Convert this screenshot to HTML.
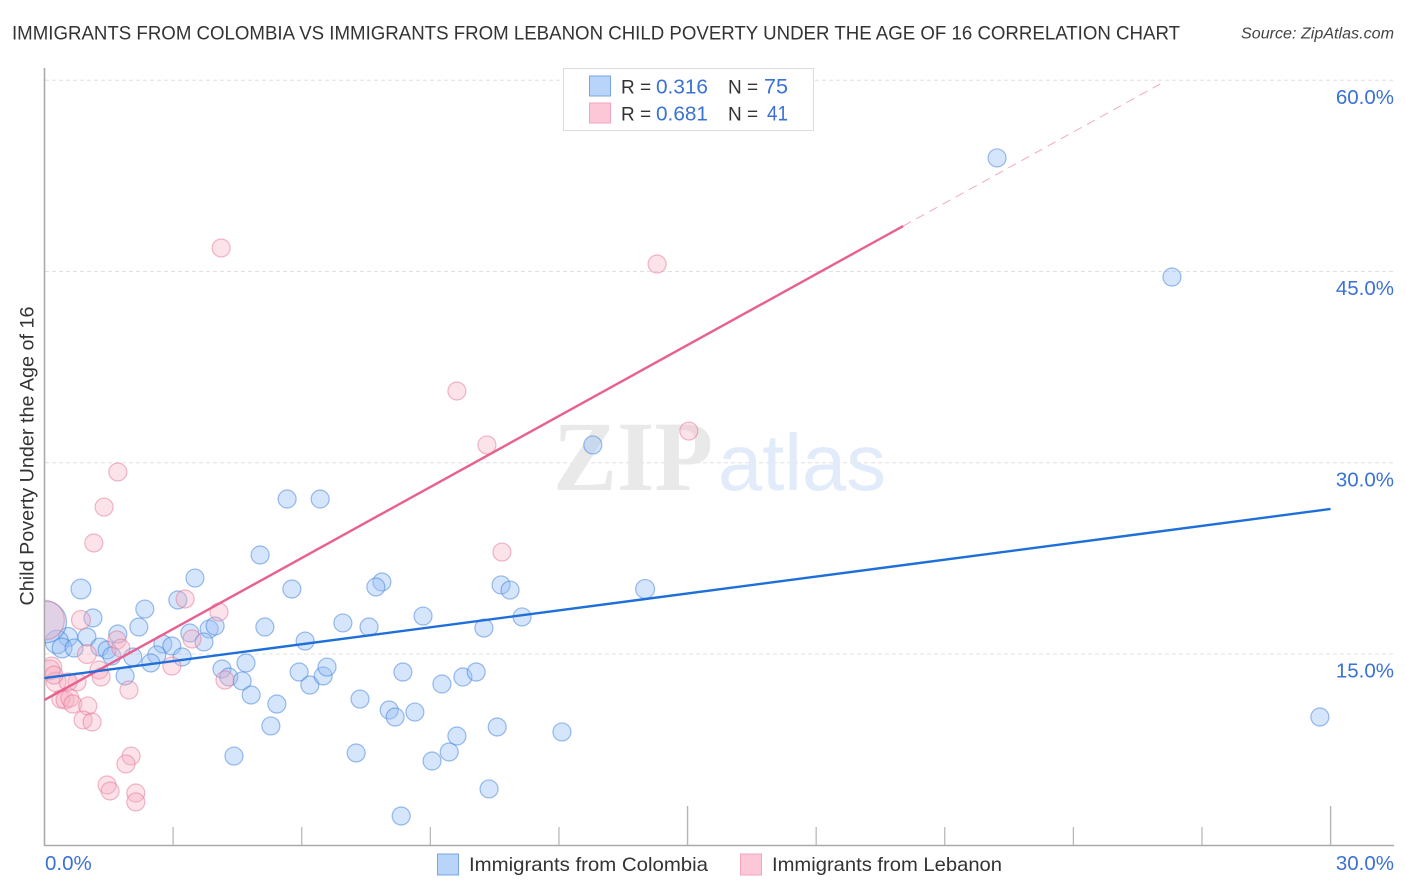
<!DOCTYPE html>
<html lang="en">
<head>
<meta charset="utf-8">
<title>Immigrants from Colombia vs Immigrants from Lebanon Child Poverty Chart</title>
<style>
html,body{margin:0;padding:0;background:#fff;width:1406px;height:892px;overflow:hidden}
svg{display:block;font-family:"Liberation Sans",sans-serif}
</style>
</head>
<body>
<svg id="chart" width="1406" height="892" viewBox="0 0 1406 892" xmlns="http://www.w3.org/2000/svg">
  <defs><clipPath id="plot-clip"><rect x="45" y="60" width="1349" height="785"/></clipPath></defs>
  <text x="12" y="39.5" font-size="19.5" fill="#333" textLength="1168" lengthAdjust="spacingAndGlyphs">IMMIGRANTS FROM COLOMBIA VS IMMIGRANTS FROM LEBANON CHILD POVERTY UNDER THE AGE OF 16 CORRELATION CHART</text>
  <text x="1394" y="38.5" font-size="15.5" font-style="italic" fill="#444" text-anchor="end" textLength="153" lengthAdjust="spacingAndGlyphs">Source: ZipAtlas.com</text>
  <g id="grid"></g>
  <g>
    <text x="553" y="490" font-family="'Liberation Serif',serif" font-weight="bold" font-size="100" fill="#e9e9e9" textLength="160" lengthAdjust="spacingAndGlyphs">ZIP</text>
    <text x="718" y="490" font-size="80" fill="#e2ebfa" textLength="168" lengthAdjust="spacingAndGlyphs">atlas</text>
  </g>
  <g id="axes"></g>
  <g id="points" clip-path="url(#plot-clip)"></g>
  <g id="trends"></g>
  <g id="tick-labels"></g>
  <text transform="translate(33.5,456) rotate(-90)" font-size="19" fill="#333" text-anchor="middle" textLength="299" lengthAdjust="spacingAndGlyphs">Child Poverty Under the Age of 16</text>

  <g>
    <rect x="563.5" y="68.5" width="250" height="62" fill="#fff" stroke="#dcdcdc" stroke-width="1"/>
    <rect x="589.5" y="76" width="21" height="20" fill="#b8d4f8" stroke="#78a6e2" stroke-width="1"/>
    <rect x="589.5" y="103" width="21" height="20" fill="#fcc8d8" stroke="#f3a5bf" stroke-width="1"/>
    <text x="621" y="93.5" font-size="19" fill="#333">R =</text>
    <text x="656" y="93.5" font-size="20.5" fill="#3b72d4" textLength="52" lengthAdjust="spacingAndGlyphs">0.316</text>
    <text x="728" y="93.5" font-size="19" fill="#333">N =</text>
    <text x="764" y="93.5" font-size="21" fill="#3b72d4" textLength="24" lengthAdjust="spacingAndGlyphs">75</text>
    <text x="621" y="120.5" font-size="19" fill="#333">R =</text>
    <text x="656" y="120.5" font-size="20.5" fill="#3b72d4" textLength="52" lengthAdjust="spacingAndGlyphs">0.681</text>
    <text x="728" y="120.5" font-size="19" fill="#333">N =</text>
    <text x="767" y="120.5" font-size="21" fill="#3b72d4" textLength="21" lengthAdjust="spacingAndGlyphs">41</text>
  </g>

  <g>
    <rect x="437.5" y="854" width="21" height="21" fill="#b8d4f8" stroke="#78a6e2" stroke-width="1"/>
    <text x="469" y="871" font-size="19.5" fill="#333" textLength="239" lengthAdjust="spacingAndGlyphs">Immigrants from Colombia</text>
    <rect x="740.5" y="854" width="21" height="21" fill="#fcc8d8" stroke="#f3a5bf" stroke-width="1"/>
    <text x="772" y="871" font-size="19.5" fill="#333" textLength="230" lengthAdjust="spacingAndGlyphs">Immigrants from Lebanon</text>
  </g>
</svg>
<script>
const colombiaX = [22.22,26.30,29.75,12.79,5.66,6.43,5.03,3.51,5.77,7.87,7.73,10.65,10.86,14.01,0.85,2.34,3.11,1.13,8.83,11.14,6.96,7.57,10.25,5.14,2.20,3.84,3.98,1.71,0.99,0.55,0.29,3.39,3.72,0.41,0.69,1.29,1.46,1.57,2.06,2.76,2.97,2.62,3.21,2.48,1.88,4.14,4.30,4.61,4.70,4.82,5.42,5.28,4.42,5.94,6.08,6.19,6.50,6.59,8.36,9.27,9.76,10.07,7.36,8.04,8.18,8.64,10.56,12.07,9.62,9.44,9.04,7.27,10.37,8.32,0.03];
const colombiaY = [53.91,44.57,10.06,31.40,27.16,27.16,22.77,20.96,20.10,20.65,20.26,20.42,20.02,20.10,20.10,18.53,19.24,17.83,17.98,17.91,17.44,17.12,17.04,17.12,17.12,16.96,17.20,16.57,16.34,16.34,15.95,16.65,15.95,15.47,15.47,15.55,15.32,14.85,14.77,15.79,15.63,14.93,14.77,14.30,13.28,13.83,13.20,12.89,14.30,11.79,11.08,9.36,7.00,13.59,16.02,12.57,13.28,13.98,13.59,12.65,13.20,13.59,11.47,10.61,10.06,10.45,9.28,8.89,8.57,7.32,6.61,7.24,4.42,2.30,17.51];
const colombiaWeight = [1,1,1,1,1,1,1,1,1,1,1,1,1,1.05,1.1,1,1,1,1,1,1,1,1,1,1,1,1,1,1,1.05,1.3,1,1,1.1,1,1,1,1,1,1,1,1,1,1,1,1,1,1,1,1,1,1,1,1,1,1,1,1,1,1,1,1,1,1,1,1,1,1,1,1,1,1,1,1,2.3];
const lebanonX = [4.12,14.29,9.62,10.32,15.03,1.71,1.39,1.15,10.67,3.28,4.07,0.85,3.44,1.69,1.78,0.99,0.17,0.13,0.27,0.76,0.55,1.27,1.32,1.97,2.97,4.21,0.38,0.48,0.59,0.66,1.01,0.90,1.11,2.02,1.90,1.46,1.53,2.13,2.13,0.00,0.22];
const lebanonY = [46.85,45.59,35.63,31.40,32.49,29.28,26.53,23.71,23.00,19.32,18.30,17.67,16.18,16.10,15.47,15.00,13.98,13.75,12.81,12.81,12.81,13.75,13.20,12.18,14.06,12.96,11.47,11.40,11.55,11.08,10.93,9.83,9.67,7.00,6.38,4.73,4.26,4.10,3.40,17.67,13.35];
const lebanonWeight = [1,1,1,1,1,1,1,1,1,1,1,1.05,1,1,1,1.05,1.1,1.1,1.1,1,1,1,1,1,1,1,1,1,1,1,1,1,1,1,1,1,1,1,1,2.2,1];
const colombiaTrendX = [0,30];
const colombiaTrendY = [13.12,26.38];
const lebanonTrendX = [0,20.03];
const lebanonTrendY = [11.4,48.57];
const lebanonExtensionX = [20.03,26.02];
const lebanonExtensionY = [48.57,59.7];
const yTicks = [15,30,45,60];
const yTickLabels = ["15.0%","30.0%","45.0%","60.0%"];
const xTicks = [3,6,9,12,15,18,21,24,27,30];
const xMajorTicks = [15,30];
const xEndLabels = ["0.0%","30.0%"];

const NS = "http://www.w3.org/2000/svg";
function xScale(v){ return 44.5 + v * 42.87; }
function yScale(v){ return 845.3 - v * 12.75; }
function rScale(w){ return 9 * w; }

const gridLayer = document.getElementById("grid");
const axesLayer = document.getElementById("axes");
const pointsLayer = document.getElementById("points");
const trendsLayer = document.getElementById("trends");
const labelsLayer = document.getElementById("tick-labels");

yTicks.forEach(function(t, i){
  const line = document.createElementNS(NS, "line");
  
  
  line.setAttribute("x1", 45);
  line.setAttribute("x2", 1394);
  line.setAttribute("y1", yScale(t));
  line.setAttribute("y2", yScale(t));
  line.setAttribute("stroke", "#e0e0e0");
  line.setAttribute("stroke-width", 1);
  line.setAttribute("stroke-dasharray", "4 3");
  gridLayer.appendChild(line);
  const label = document.createElementNS(NS, "text");
  
  
  label.setAttribute("x", 1394);
  label.setAttribute("y", yScale(t) + 23.5);
  label.setAttribute("text-anchor", "end");
  label.setAttribute("font-size", 20.5);
  label.setAttribute("fill", "#3b72d4");
  label.textContent = yTickLabels[i];
  labelsLayer.appendChild(label);
});

const yAxis = document.createElementNS(NS, "line");


yAxis.setAttribute("x1", 44.5);
yAxis.setAttribute("x2", 44.5);
yAxis.setAttribute("y1", 68);
yAxis.setAttribute("y2", 846);
yAxis.setAttribute("stroke", "#aaaaaa");
yAxis.setAttribute("stroke-width", 1.6);
axesLayer.appendChild(yAxis);

const xAxis = document.createElementNS(NS, "line");


xAxis.setAttribute("x1", 44);
xAxis.setAttribute("x2", 1394);
xAxis.setAttribute("y1", 845.5);
xAxis.setAttribute("y2", 845.5);
xAxis.setAttribute("stroke", "#aaaaaa");
xAxis.setAttribute("stroke-width", 1.4);
axesLayer.appendChild(xAxis);

xTicks.forEach(function(t){
  const major = xMajorTicks.indexOf(t) >= 0;
  const tick = document.createElementNS(NS, "line");
  
  
  tick.setAttribute("x1", xScale(t));
  tick.setAttribute("x2", xScale(t));
  tick.setAttribute("y1", major ? 806 : 827);
  tick.setAttribute("y2", 845);
  tick.setAttribute("stroke", "#b4b4b4");
  tick.setAttribute("stroke-width", major ? 1.4 : 1.2);
  axesLayer.appendChild(tick);
});

const xLabelStart = document.createElementNS(NS, "text");


xLabelStart.setAttribute("x", 45);
xLabelStart.setAttribute("y", 870);
xLabelStart.setAttribute("font-size", 20.5);
xLabelStart.setAttribute("fill", "#3b72d4");
xLabelStart.textContent = xEndLabels[0];
labelsLayer.appendChild(xLabelStart);

const xLabelEnd = document.createElementNS(NS, "text");


xLabelEnd.setAttribute("x", 1394);
xLabelEnd.setAttribute("y", 870);
xLabelEnd.setAttribute("text-anchor", "end");
xLabelEnd.setAttribute("font-size", 20.5);
xLabelEnd.setAttribute("fill", "#3b72d4");
xLabelEnd.textContent = xEndLabels[1];
labelsLayer.appendChild(xLabelEnd);

colombiaX.forEach(function(v, i){
  const c = document.createElementNS(NS, "circle");
  
  
  c.setAttribute("cx", xScale(v));
  c.setAttribute("cy", yScale(colombiaY[i]));
  c.setAttribute("r", rScale(colombiaWeight[i]));
  c.setAttribute("fill", "rgba(150,190,245,0.4)");
  c.setAttribute("stroke", "rgba(60,125,215,0.5)");
  c.setAttribute("stroke-width", 1.2);
  pointsLayer.appendChild(c);
});

lebanonX.forEach(function(v, i){
  const c = document.createElementNS(NS, "circle");
  
  
  c.setAttribute("cx", xScale(v));
  c.setAttribute("cy", yScale(lebanonY[i]));
  c.setAttribute("r", rScale(lebanonWeight[i]));
  c.setAttribute("fill", "rgba(248,175,195,0.36)");
  c.setAttribute("stroke", "rgba(225,115,150,0.5)");
  c.setAttribute("stroke-width", 1.2);
  pointsLayer.appendChild(c);
});

const lebanonExtension = document.createElementNS(NS, "line");


lebanonExtension.setAttribute("x1", xScale(lebanonExtensionX[0]));
lebanonExtension.setAttribute("y1", yScale(lebanonExtensionY[0]));
lebanonExtension.setAttribute("x2", xScale(lebanonExtensionX[1]));
lebanonExtension.setAttribute("y2", yScale(lebanonExtensionY[1]));
lebanonExtension.setAttribute("stroke", "#f2a9c0");
lebanonExtension.setAttribute("stroke-width", 1);
lebanonExtension.setAttribute("stroke-dasharray", "9 6");
trendsLayer.appendChild(lebanonExtension);

const lebanonTrend = document.createElementNS(NS, "line");


lebanonTrend.setAttribute("x1", xScale(lebanonTrendX[0]));
lebanonTrend.setAttribute("y1", yScale(lebanonTrendY[0]));
lebanonTrend.setAttribute("x2", xScale(lebanonTrendX[1]));
lebanonTrend.setAttribute("y2", yScale(lebanonTrendY[1]));
lebanonTrend.setAttribute("stroke", "#e8608e");
lebanonTrend.setAttribute("stroke-width", 2.4);
trendsLayer.appendChild(lebanonTrend);

const colombiaTrend = document.createElementNS(NS, "line");


colombiaTrend.setAttribute("x1", xScale(colombiaTrendX[0]));
colombiaTrend.setAttribute("y1", yScale(colombiaTrendY[0]));
colombiaTrend.setAttribute("x2", xScale(colombiaTrendX[1]));
colombiaTrend.setAttribute("y2", yScale(colombiaTrendY[1]));
colombiaTrend.setAttribute("stroke", "#1f6fd8");
colombiaTrend.setAttribute("stroke-width", 2.4);
trendsLayer.appendChild(colombiaTrend);
</script>
</body>
</html>
